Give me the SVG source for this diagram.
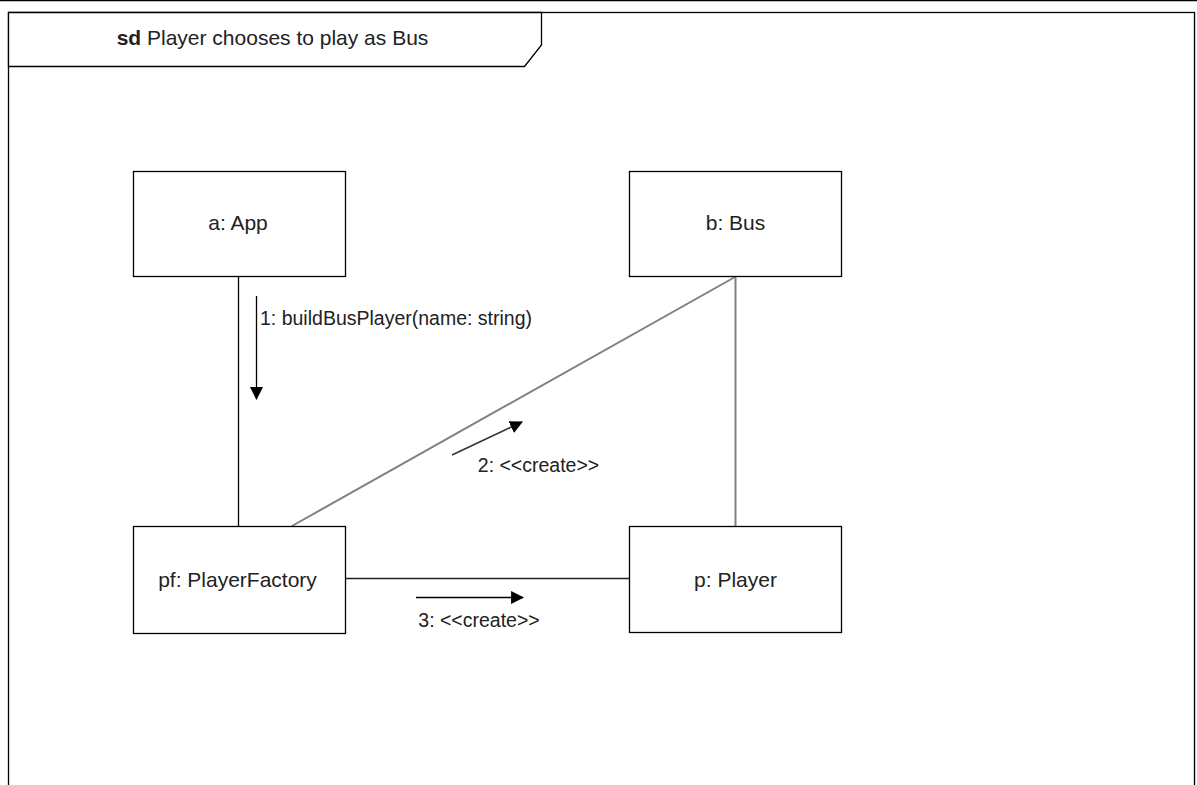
<svg xmlns="http://www.w3.org/2000/svg" width="1197" height="785" viewBox="0 0 1197 785">
<style>
.box{fill:#fff;stroke:#000;stroke-width:1.3}
.lbl{font-family:"Liberation Sans",Arial,sans-serif;font-size:21px;fill:#222}
.msg{font-family:"Liberation Sans",Arial,sans-serif;font-size:19.5px;fill:#222}
.edge{fill:none;stroke:#000;stroke-width:1.3}
.grey{fill:none;stroke:#808080;stroke-width:2}
</style>
<defs>
<marker id="ah" viewBox="0 0 12 12" refX="11" refY="6" markerWidth="13" markerHeight="13" markerUnits="userSpaceOnUse" orient="auto">
<path d="M0,0 L12,6 L0,12 Z" fill="#000"/>
</marker>
</defs>
<rect width="1197" height="785" fill="#fff"/>
<line x1="0" y1="0.5" x2="1197" y2="0.5" stroke="#000" stroke-width="1.5"/>
<g id="frame">
<rect x="8.5" y="12.5" width="1186" height="800" fill="none" stroke="#000" stroke-width="1.3"/>
<line x1="1195.5" y1="13" x2="1195.5" y2="785" stroke="#ccc" stroke-width="1"/>
<path d="M8.5,12.5 H541.5 V45 L524.5,66.5 H8.5 Z" fill="#fff" stroke="#000" stroke-width="1.3"/>
<text x="272.5" y="45" text-anchor="middle" class="lbl" font-size="22"><tspan font-weight="bold">sd</tspan> Player chooses to play as Bus</text>
</g>
<g id="connectors">
<line class="edge" x1="238.5" y1="276" x2="238.5" y2="526"/>
<line class="grey" x1="292" y1="526" x2="735" y2="277"/>
<line class="grey" x1="735.5" y1="277" x2="735.5" y2="526"/>
<line x1="346" y1="578.5" x2="629" y2="578.5" stroke="#222" stroke-width="1.5"/>
<line class="edge" x1="256.5" y1="296" x2="256.5" y2="399" marker-end="url(#ah)"/>
<text class="msg" x="260" y="325">1: buildBusPlayer(name: string)</text>
<line x1="452" y1="455" x2="522" y2="422" stroke="#333" stroke-width="1.5" marker-end="url(#ah)"/>
<text class="msg" x="538.5" y="472" text-anchor="middle">2: &lt;&lt;create&gt;&gt;</text>
<line class="edge" x1="416" y1="597.5" x2="523" y2="597.5" marker-end="url(#ah)"/>
<text class="msg" x="479" y="627" text-anchor="middle">3: &lt;&lt;create&gt;&gt;</text>
</g>
<g id="app">
<rect class="box" x="133.5" y="171.5" width="212" height="105"/>
<text class="lbl" x="238" y="230" text-anchor="middle">a: App</text>
</g>
<g id="bus">
<rect class="box" x="629.5" y="171.5" width="212" height="105"/>
<text class="lbl" x="735.5" y="230" text-anchor="middle">b: Bus</text>
</g>
<g id="factory">
<rect class="box" x="133.5" y="526.5" width="212" height="107"/>
<text class="lbl" x="237.5" y="587" text-anchor="middle">pf: PlayerFactory</text>
</g>
<g id="player">
<rect class="box" x="629.5" y="526.5" width="212" height="106"/>
<text class="lbl" x="735.5" y="587" text-anchor="middle">p: Player</text>
</g>
</svg>
